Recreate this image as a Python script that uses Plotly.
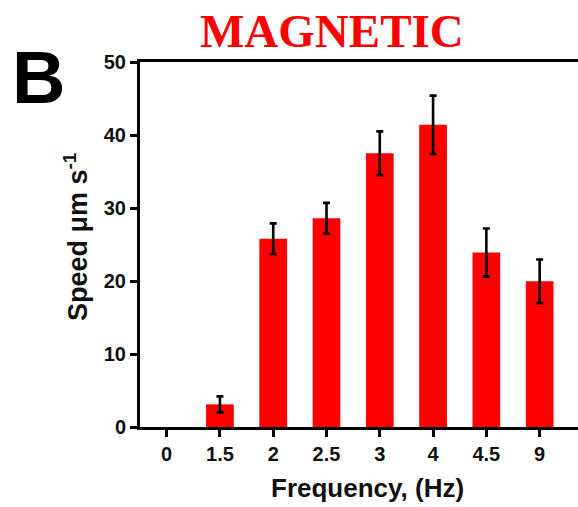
import plotly.graph_objects as go

categories = ["0", "1.5", "2", "2.5", "3", "4", "4.5", "9"]
speed = [0, 3.1, 25.8, 28.6, 37.5, 41.4, 23.9, 19.95]
speed_err = [0, 1.1, 2.1, 2.1, 3.0, 4.0, 3.3, 3.0]
y_ticks = [0, 10, 20, 30, 40, 50]

W, H = 578, 507
L, R, T, B = 140, 0, 62, 80
pw = W - L - R
ph = H - T - B

def px(x):
    return (x - L) / pw

def py(y):
    return (H - B - y) / ph

# a zero-height bar shows no mark (and no error bar) in the reference
y_plot = [v if v > 0 else None for v in speed]

fig = go.Figure()
fig.add_trace(go.Bar(
    x=categories, y=y_plot, width=0.52,
    marker=dict(color="#ff0000", line=dict(width=0)),
    error_y=dict(type="data", array=speed_err, visible=True,
                 color="black", thickness=2.6, width=3.5),
))

font_b = "Liberation Sans, Arial, sans-serif"
tickfont = dict(family=font_b, size=20, color="#111", weight="bold")

fig.update_layout(
    width=W, height=H,
    margin=dict(l=L, r=R, t=T, b=B),
    plot_bgcolor="white", paper_bgcolor="white",
    showlegend=False,
    xaxis=dict(type="category", range=[-0.5, 7.72], categoryarray=categories,
               categoryorder="array",
               showline=True, linecolor="black", linewidth=3, mirror=True,
               ticks="outside", ticklen=7, tickwidth=3, tickcolor="black",
               showgrid=False, zeroline=False, tickfont=tickfont),
    yaxis=dict(range=[0, 50], tickvals=y_ticks,
               showline=True, linecolor="black", linewidth=3,
               ticks="outside", ticklen=7, tickwidth=3, tickcolor="black",
               showgrid=False, zeroline=False, tickfont=tickfont),
    annotations=[
        dict(text="<b>MAGNETIC</b>", x=px(332), y=py(31), xref="paper", yref="paper",
             xanchor="center", yanchor="middle", showarrow=False,
             font=dict(family="Liberation Serif, Times New Roman, serif", size=47, color="#ff0000")),
        dict(text="<b>B</b>", x=px(38), y=py(77), xref="paper", yref="paper",
             xanchor="center", yanchor="middle", showarrow=False,
             font=dict(family=font_b, size=74, color="black")),
        dict(text="<b>Speed μm s<sup>-1</sup></b>", x=px(76), y=py(237), xref="paper", yref="paper",
             xanchor="center", yanchor="middle", showarrow=False, textangle=-90,
             font=dict(family=font_b, size=27, color="#111")),
        dict(text="<b>Frequency, (Hz)</b>", x=px(367), y=py(488), xref="paper", yref="paper",
             xanchor="center", yanchor="middle", showarrow=False,
             font=dict(family=font_b, size=26, color="#111")),
    ],
)

fig.write_html("out.html", config={"displayModeBar": False},
               post_script="document.body.style.margin='0';document.body.style.overflow='hidden';")
